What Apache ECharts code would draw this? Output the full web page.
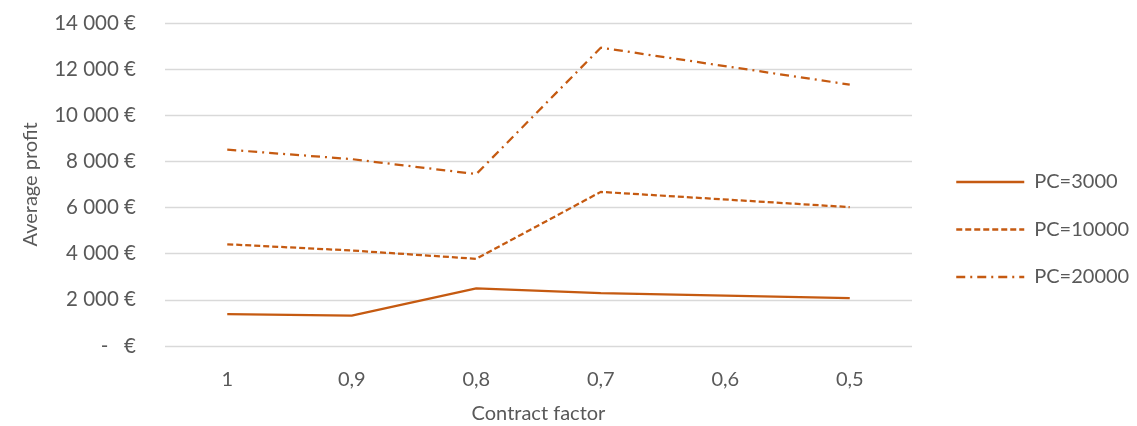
<!DOCTYPE html>
<html><head><meta charset="utf-8">
<script src="https://cdn.jsdelivr.net/npm/echarts@6/dist/echarts.min.js"></script>
<style>html,body{margin:0;padding:0;background:#fff}#c{width:1137px;height:426px}</style>
</head><body><div id="c"></div>
<script>
const categories = ['1','0,9','0,8','0,7','0,6','0,5'];
const pc3000 = [1380, 1320, 2500, 2290, null, 2070];
const pc10000 = [4410, 4140, 3780, 6680, null, 6020];
const pc20000 = [8510, 8100, 7450, 12930, null, 11330];
const seriesNames = ['PC=3000','PC=10000','PC=20000'];

function fmt(v){
  if(v===0) return '-   €';
  return String(v).replace(/\B(?=(\d{3})+(?!\d))/g,' ') + ' €';
}
const color = '#C55A11';
const font = 'Lato, "Open Sans", sans-serif';
const chart = echarts.init(document.getElementById('c'));
function s(name,data,type){
  return {name, type:'line', data, symbol:'none', connectNulls:true,
    lineStyle:{color, width:2.25, type}, itemStyle:{color}};
}
chart.setOption({
  animation:false,
  textStyle:{fontFamily:font},
  grid:{left:165, right:225, top:23, bottom:80, outerBoundsMode:'none', containLabel:false},
  legend:{orient:'vertical', left:955, top:172, padding:0, itemGap:27.5, itemWidth:68, itemHeight:24,
    itemStyle:{opacity:0}, lineStyle:{width:2.5},
    textStyle:{color:'#595959', fontSize:20, fontFamily:font, padding:[0,0,0,5]},
    data:seriesNames},
  xAxis:{type:'category', data:categories, boundaryGap:true,
    name:'Contract factor', nameLocation:'middle', nameGap:58,
    nameTextStyle:{color:'#595959', fontSize:20},
    axisLine:{show:false}, axisTick:{show:false},
    axisLabel:{color:'#595959', fontSize:20, margin:24}},
  yAxis:{type:'value', min:0, max:14000, interval:2000,
    name:'Average profit', nameLocation:'middle', nameGap:124,
    nameTextStyle:{color:'#595959', fontSize:20},
    axisLabel:{color:'#595959', fontSize:20.5, formatter:fmt, margin:29},
    splitLine:{lineStyle:{color:'#d9d9d9', width:1.3}}},
  series:[s(seriesNames[0],pc3000,'solid'), s(seriesNames[1],pc10000,[6,3]), s(seriesNames[2],pc20000,[9,5,2,5])]
});
</script></body></html>
